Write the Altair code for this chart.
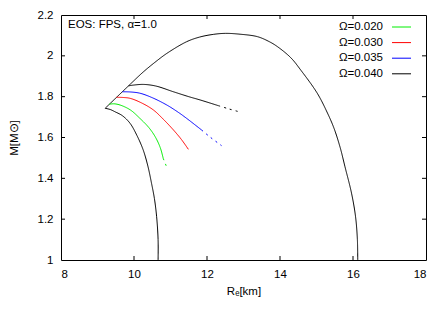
import altair as alt
import pandas as pd

# ---- data ----
R_static = [10.66, 10.66, 10.62, 10.56, 10.48, 10.38, 10.25, 10.08, 9.89, 9.68, 9.48, 9.35, 9.21]
M_static = [1.00, 1.10, 1.212, 1.30, 1.376, 1.46, 1.54, 1.61, 1.67, 1.707, 1.726, 1.737, 1.743]

R_kepler = [9.21, 9.85, 10.26, 10.6, 10.9, 11.44, 11.8, 12.17, 12.5, 12.9, 13.38, 13.7, 13.93,
            14.3, 14.57, 15.02, 15.3, 15.48, 15.65, 15.78, 15.96, 16.07, 16.12, 16.13]
M_kepler = [1.743, 1.853, 1.922, 1.972, 2.012, 2.069, 2.092, 2.105, 2.110, 2.106, 2.094, 2.070, 2.045,
            1.990, 1.930, 1.817, 1.72, 1.645, 1.55, 1.457, 1.327, 1.212, 1.10, 1.00]

R_020 = [9.32, 9.45, 9.62, 9.90, 10.16, 10.40, 10.58, 10.72, 10.80]
M_020 = [1.763, 1.765, 1.759, 1.735, 1.694, 1.650, 1.604, 1.550, 1.498]
R_020_dot = [10.80, 10.91]
M_020_dot = [1.498, 1.449]

R_030 = [9.52, 9.70, 9.89, 10.20, 10.53, 10.80, 11.08, 11.30, 11.49]
M_030 = [1.797, 1.796, 1.792, 1.770, 1.735, 1.690, 1.637, 1.590, 1.542]

R_035 = [9.68, 9.90, 10.16, 10.50, 10.90, 11.20, 11.44, 11.85]
M_035 = [1.824, 1.823, 1.817, 1.795, 1.759, 1.725, 1.694, 1.637]
R_035_dot = [11.85, 12.10, 12.40]
M_035_dot = [1.637, 1.600, 1.560]

R_040 = [9.85, 10.00, 10.26, 10.60, 11.08, 11.50, 11.81, 12.31]
M_040 = [1.853, 1.857, 1.860, 1.852, 1.824, 1.800, 1.784, 1.756]
R_040_dot = [12.31, 12.60, 12.86]
M_040_dot = [1.756, 1.740, 1.727]

legend_labels = ["Ω=0.020", "Ω=0.030", "Ω=0.035", "Ω=0.040"]
legend_colors = ["#00ee00", "#ff0000", "#0000ff", "#000000"]

x_ticks = [8, 10, 12, 14, 16, 18]
y_ticks = [1.0, 1.2, 1.4, 1.6, 1.8, 2.0, 2.2]
x_inner = [10, 12, 14, 16]
y_inner = [1.2, 1.4, 1.6, 1.8, 2.0]

# ---- build tables ----
rows = []
def add(series, seg, R, M):
    for i, (r, m) in enumerate(zip(R, M)):
        rows.append({"series": series, "key": series + "_" + seg, "seg": seg, "i": i, "R": r, "M": m})

add("static", "solid", R_static, M_static)
add("kepler", "solid", R_kepler, M_kepler)
add("0.020", "solid", R_020, M_020)
add("0.020", "dot", R_020_dot, M_020_dot)
add("0.030", "solid", R_030, M_030)
add("0.035", "solid", R_035, M_035)
add("0.035", "dot", R_035_dot, M_035_dot)
add("0.040", "solid", R_040, M_040)
add("0.040", "dot", R_040_dot, M_040_dot)
df = pd.DataFrame(rows)

FONT = "Liberation Sans"
W, H = 365, 245

xscale = alt.Scale(domain=[8, 18], nice=False, zero=False)
yscale = alt.Scale(domain=[1.0, 2.2], nice=False, zero=False)

curves = alt.Chart(df).mark_line(strokeWidth=1, interpolate="catmull-rom", clip=True).encode(
    x=alt.X("R:Q", scale=xscale,
            axis=alt.Axis(values=x_ticks, title="Rₑ[km]", grid=False, domain=False, ticks=False,
                          labelFontSize=11.5, labelPadding=8, titleFontSize=11.5, titleFontWeight="normal",
                          titlePadding=6, labelColor="black", titleColor="black", format="~g")),
    y=alt.Y("M:Q", scale=yscale,
            axis=alt.Axis(values=y_ticks, title="M[M⊙]", grid=False, domain=False, ticks=False,
                          labelFontSize=11.5, labelPadding=8, titleFontSize=11.5, titleFontWeight="normal",
                          titlePadding=18, labelColor="black", titleColor="black", format="~g")),
    color=alt.Color("series:N", scale=alt.Scale(
        domain=["static", "kepler", "0.020", "0.030", "0.035", "0.040"],
        range=["#000000", "#000000"] + legend_colors), legend=None),
    strokeDash=alt.StrokeDash("seg:N", scale=alt.Scale(domain=["solid", "dot"], range=[[1, 0], [2, 4]]),
                              legend=None),
    detail="key:N",
    order="i:Q",
)

# inward ticks
tx = pd.DataFrame({"v": x_inner})
ty = pd.DataFrame({"v": y_inner})
tick_b = alt.Chart(tx).mark_rule(color="black", strokeWidth=1).encode(
    x=alt.X("v:Q", scale=xscale), y=alt.value(H), y2=alt.value(H - 4))
tick_t = alt.Chart(tx).mark_rule(color="black", strokeWidth=1).encode(
    x=alt.X("v:Q", scale=xscale), y=alt.value(0), y2=alt.value(4))
tick_l = alt.Chart(ty).mark_rule(color="black", strokeWidth=1).encode(
    y=alt.Y("v:Q", scale=yscale), x=alt.value(0), x2=alt.value(4))
tick_r = alt.Chart(ty).mark_rule(color="black", strokeWidth=1).encode(
    y=alt.Y("v:Q", scale=yscale), x=alt.value(W), x2=alt.value(W - 4))

# legend (gnuplot style: text then sample line)
leg = pd.DataFrame({"label": legend_labels, "color": legend_colors, "idx": list(range(len(legend_labels)))})
leg_base = alt.Chart(leg).transform_calculate(ly="12 + datum.idx * 15.6")
leg_text = leg_base.mark_text(align="right", baseline="middle", fontSize=11.5, font=FONT, color="black").encode(
    x=alt.value(322), y=alt.Y("ly:Q", scale=None), text="label:N")
leg_line = leg_base.mark_rule(strokeWidth=1).encode(
    x=alt.value(331), x2=alt.value(350), y=alt.Y("ly:Q", scale=None),
    color=alt.Color("color:N", scale=None))

eos = alt.Chart(pd.DataFrame({"t": ["EOS: FPS, α=1.0"]})).mark_text(
    align="left", baseline="middle", fontSize=11.5, font=FONT, color="black").encode(
    x=alt.value(7), y=alt.value(10), text="t:N")

chart = alt.layer(curves, tick_b, tick_t, tick_l, tick_r, leg_line, leg_text, eos).properties(
    width=W, height=H,
    autosize=alt.AutoSizeParams(type="none"),
    padding={"left": 53, "top": 7, "right": 14, "bottom": 45},
).configure(font=FONT).configure_view(stroke="black", strokeWidth=1).resolve_scale(color="independent")

chart.save("out.html", embed_options={"renderer": "svg", "actions": False})
